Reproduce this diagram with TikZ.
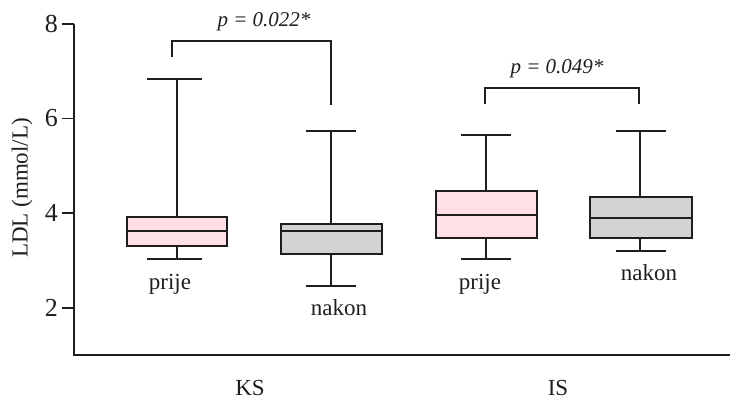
\documentclass[tikz,border=0pt]{standalone}
\usepackage{fontspec}
\setmainfont{Liberation Serif}
\definecolor{pinkfill}{RGB}{255,224,228}
\definecolor{grayfill}{RGB}{211,211,211}
\definecolor{ink}{RGB}{30,30,30}
\begin{document}
\begin{tikzpicture}[x=1pt,y=-1pt,
  ax/.style={draw=ink,line width=1.8pt},
  bx/.style={draw=ink,line width=2pt},
  lbl/.style={font=\fontsize{23}{27}\selectfont,text=ink,inner sep=0pt},
  pval/.style={font=\fontsize{21}{25}\selectfont\itshape,text=ink,inner sep=0pt}]
\useasboundingbox (0,0) rectangle (730,400);
% axes
\draw[ax] (74,24) -- (74,355) -- (730,355);
\foreach \v/\y in {8/24,6/118.5,4/213,2/308}{
  \draw[ax] (62,\y) -- (74,\y);
  \node[lbl,anchor=east,font=\fontsize{26}{30}\selectfont] (t\v) at (58,\y) {\v};
}
\node[lbl,rotate=90] (ylab) at (22,188) {LDL (mmol/L)};
% KS prije
\draw[bx] (177,79) -- (177,217) (147,79) -- (202,79);
\draw[bx] (177,246) -- (177,259) (147,259) -- (202,259);
\draw[bx,fill=pinkfill] (127,217) rectangle (227,246);
\draw[bx] (127,231) -- (227,231);
% KS nakon
\draw[bx] (331,131) -- (331,224) (306,131) -- (356,131);
\draw[bx] (331,254) -- (331,286) (306,286) -- (356,286);
\draw[bx,fill=grayfill] (281,224) rectangle (382,254);
\draw[bx] (281,231) -- (382,231);
% IS prije
\draw[bx] (486,135) -- (486,191) (461,135) -- (511,135);
\draw[bx] (486,238) -- (486,259) (461,259) -- (511,259);
\draw[bx,fill=pinkfill] (436,191) rectangle (537,238);
\draw[bx] (436,215) -- (537,215);
% IS nakon
\draw[bx] (640,131) -- (640,197) (616,131) -- (666,131);
\draw[bx] (640,238) -- (640,251) (616,251) -- (666,251);
\draw[bx,fill=grayfill] (590,197) rectangle (692,238);
\draw[bx] (590,218) -- (692,218);
% brackets
\draw[bx] (172,57) -- (172,41) -- (331,41) -- (331,105);
\draw[bx] (485,104) -- (485,88) -- (639,88) -- (639,104);
\node[pval] (p1) at (264,22) {p = 0.022*};
\node[pval] (p2) at (557,69) {p = 0.049*};
% labels
\node[lbl] (l1) at (170,284) {prije};
\node[lbl] (l2) at (339,308) {nakon};
\node[lbl] (l3) at (480,284) {prije};
\node[lbl] (l4) at (649,273) {nakon};
\node[lbl] (g1) at (250,388) {KS};
\node[lbl] (g2) at (558,388) {IS};
\end{tikzpicture}
\end{document}
